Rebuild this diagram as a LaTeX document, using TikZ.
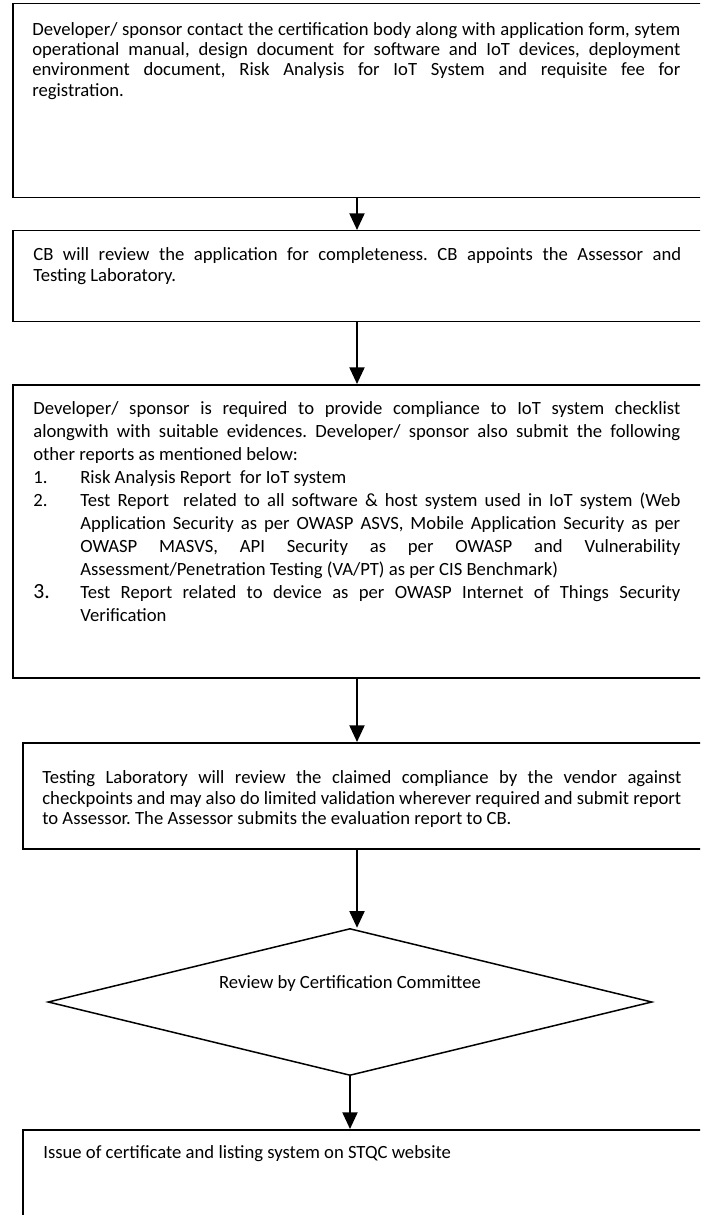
\documentclass[tikz,border=0pt]{standalone}
\usepackage{fontspec}
\setmainfont{Carlito}
\usepackage{tikz}
\usetikzlibrary{shapes.geometric, arrows.meta, positioning}

\newcommand{\stepitem}[2]{\par\noindent\hangindent=28.2pt\hangafter=1\makebox[28.2pt][l]{#1}#2\par}

\tikzset{
  stepbox/.style={draw, rectangle, line width=0.9pt, inner sep=0pt, minimum width=420pt, anchor=north west},
  para/.style={inner sep=0pt, align=justify, font=\fontsize{11.2}{#1}\selectfont},
  decision/.style={draw, diamond, line width=0.9pt, inner sep=0pt, minimum width=362.4pt, minimum height=88.2pt},
  flow/.style={line width=1.2pt, -{Triangle[length=10pt, width=9pt]}},
}

\begin{document}
\frenchspacing
\hyphenpenalty=10000
\exhyphenpenalty=10000
\begin{tikzpicture}[x=0.6pt, y=-0.6pt]
    \clip (0,0) rectangle (700,1215);
    \coordinate (spine) at (357,0);

    \node[stepbox, minimum height=116.4pt] (apply) at (12,3) {};
    \node[para=12.2pt, text width=388.8pt, below right=11.4pt and 12pt of apply.north west] (applytext)
      {Developer/ sponsor contact the certification body along with application form, sytem\linebreak
       operational manual, design document for software and IoT devices, deployment\linebreak
       environment document, Risk Analysis for IoT System and requisite fee for\linebreak
       registration.};

    \node[stepbox, minimum height=54.6pt] (review1) at (12,230) {};
    \node[para=12.6pt, text width=388.8pt, below right=10.2pt and 12.6pt of review1.north west] (review1text)
      {CB will review the application for completeness. CB appoints the Assessor and\linebreak
       Testing Laboratory.};

    \node[stepbox, minimum height=175.8pt] (comply) at (12,384) {};
    \node[para=13.8pt, text width=388.2pt, below right=10.2pt and 12.6pt of comply.north west] (complytext)
      {Developer/ sponsor is required to provide compliance to IoT system checklist\linebreak
       alongwith with suitable evidences. Developer/ sponsor also submit the following\linebreak
       other reports as mentioned below:
       \stepitem{1.}{Risk Analysis Report\ \ for IoT system}
       \stepitem{2.}{Test Report\ \ related to all software \& host system used in IoT system (Web\linebreak
         Application Security as per OWASP ASVS, Mobile Application Security as per\linebreak
         OWASP MASVS, API Security as per OWASP and Vulnerability\linebreak
         Assessment/Penetration Testing (VA/PT) as per CIS Benchmark)}
       \stepitem{{\fontsize{13}{13.8}\selectfont 3.}}{Test Report related to device as per OWASP Internet of Things Security\linebreak
         Verification}};

    \node[stepbox, minimum height=63.6pt] (evaluate) at (22,742) {};
    \node[para=12.2pt, text width=383.4pt, below right=17.2pt and 12pt of evaluate.north west] (evaluatetext)
      {Testing Laboratory will review the claimed compliance by the vendor against\linebreak
       checkpoints and may also do limited validation wherever required and submit report\linebreak
       to Assessor. The Assessor submits the evaluation report to CB.};

    \node[decision] (committee) at (350,1002) {};
    \node[font=\fontsize{11.2}{12}\selectfont, inner sep=0pt] (committeetext) at (350,984) {Review by Certification Committee};

    \node[stepbox, minimum height=90pt] (issue) at (22,1129) {};
    \node[font=\fontsize{11.2}{12}\selectfont, inner sep=0pt, below right=9.6pt and 12.6pt of issue.north west] (issuetext)
      {Issue of certificate and listing system on STQC website};

    \draw[flow] (apply.south -| spine) -- (review1.north -| spine);
    \draw[flow] (review1.south -| spine) -- (comply.north -| spine);
    \draw[flow] (comply.south -| spine) -- (evaluate.north -| spine);
    \draw[flow] (evaluate.south -| spine) -- (committee.north -| spine);
    \draw[flow] (committee.south) -- (issue.north -| committee.south);
\end{tikzpicture}
\end{document}
